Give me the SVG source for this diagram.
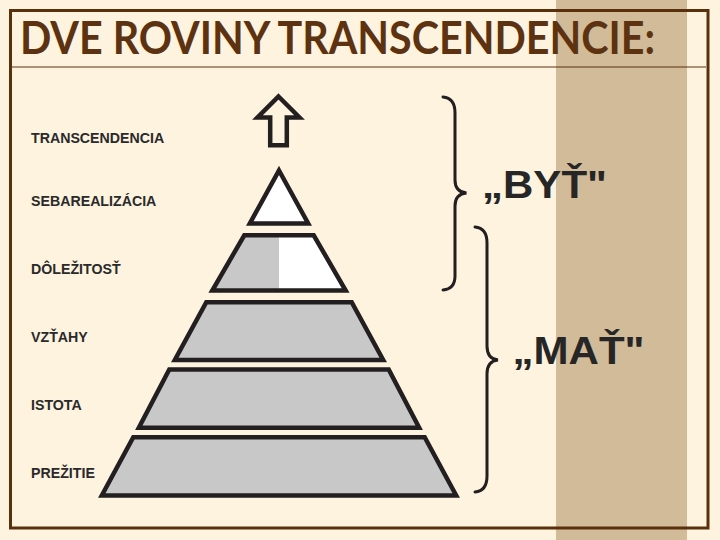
<svg xmlns="http://www.w3.org/2000/svg" width="720" height="540" viewBox="0 0 720 540">
  <style>
    .lbl { font-family: "Liberation Sans", Arial, sans-serif; font-weight: bold; font-size: 14.2px; fill: #2a2a2a; }
    .big { font-family: "Liberation Sans", Arial, sans-serif; font-weight: bold; font-size: 38px; fill: #262626; }
    .title { font-family: Lato, "Open Sans", sans-serif; font-weight: bold; font-size: 45px; fill: #5c3210; }
    .lvl { stroke: #231f20; stroke-width: 4.5; stroke-linejoin: miter; }
    .brace { fill: none; stroke: #231f20; stroke-width: 3; stroke-linecap: round; }
  </style>
  <rect x="0" y="0" width="720" height="540" fill="#fdf3df"/>
  <rect x="556" y="0" width="131" height="540" fill="#d2bb98"/>

  <g id="frame">
    <rect x="10.5" y="10.5" width="697.5" height="517.5" fill="none" stroke="#5a300c" stroke-width="3"/>
    <line x1="12" y1="67" x2="706" y2="67" stroke="#5a300c" stroke-width="1"/>
  </g>

  <g id="title">
    <text class="title" x="20" y="54" textLength="635" lengthAdjust="spacingAndGlyphs">DVE ROVINY TRANSCENDENCIE:</text>
  </g>

  <g id="labels">
    <text class="lbl" x="31" y="142.5">TRANSCENDENCIA</text>
    <text class="lbl" x="31" y="206">SEBAREALIZÁCIA</text>
    <text class="lbl" x="31" y="274">DÔLEŽITOSŤ</text>
    <text class="lbl" x="31" y="342">VZŤAHY</text>
    <text class="lbl" x="31" y="410">ISTOTA</text>
    <text class="lbl" x="31" y="477.5">PREŽITIE</text>
  </g>

  <g id="arrow-up">
    <polygon class="lvl" fill="none" stroke-width="5" points="278.5,96.5 299.5,117.5 286.8,117.5 286.8,145.2 270.2,145.2 270.2,117.5 257.5,117.5"/>
  </g>

  <g id="level-transcendencia">
    <polygon class="lvl" fill="#ffffff" points="279,170.5 308.2,223.5 249.8,223.5"/>
  </g>

  <g id="level-dolezitost">
    <polygon fill="#ffffff" points="244.3,235.25 313.7,235.25 345.7,290.5 212.3,290.5"/>
    <polygon fill="#c8c8c8" points="244.3,235.25 279,235.25 279,290.5 212.3,290.5"/>
    <polygon class="lvl" fill="none" points="244.3,235.25 313.7,235.25 345.7,290.5 212.3,290.5"/>
  </g>

  <g id="level-vztahy">
    <polygon class="lvl" fill="#c8c8c8" points="206.3,302.25 351.7,302.25 383.2,360 174.8,360"/>
  </g>

  <g id="level-istota">
    <polygon class="lvl" fill="#c8c8c8" points="169.3,369.5 388.7,369.5 419.2,427.8 138.8,427.8"/>
  </g>

  <g id="level-prezitie">
    <polygon class="lvl" fill="#c8c8c8" points="133.3,437.25 424.7,437.25 456.2,495.5 101.8,495.5"/>
  </g>

  <g id="braces">
    <path class="brace" d="M443,97 Q455,98 455,113 L455,180 Q455,192 466.5,193 Q455,194 455,206 L455,276 Q455,289 443,290"/>
    <path class="brace" d="M475,227 Q487,228 487,243 L487,346 Q487,359 498,360 Q487,361 487,374 L487,476 Q487,491 475,492"/>
  </g>

  <g id="byt">
    <text class="big" x="482" y="198" textLength="125" lengthAdjust="spacingAndGlyphs">„BYŤ"</text>
  </g>
  <g id="mat">
    <text class="big" x="512.5" y="364" textLength="132" lengthAdjust="spacingAndGlyphs">„MAŤ"</text>
  </g>
</svg>
